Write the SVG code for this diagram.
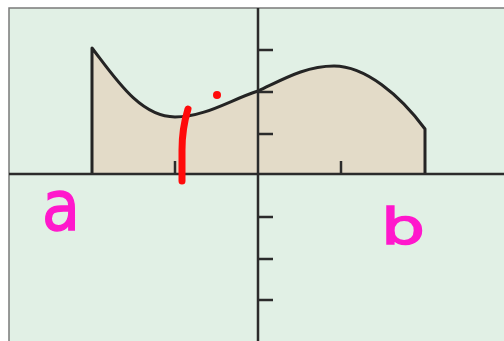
<svg xmlns="http://www.w3.org/2000/svg" width="504" height="341" viewBox="0 0 504 341">
  <style>
    .axis { stroke: #2b2b2b; stroke-width: 2.5; fill: none; }
    .tick { stroke: #2b2b2b; stroke-width: 2.5; fill: none; }
    .curve { stroke: #242424; stroke-width: 3; fill: none; stroke-linejoin: round; }
    .ink { font-family: "DejaVu Sans", sans-serif; font-weight: normal; fill: #ff18cc; stroke: #ff18cc; stroke-width: 1.5; }
  </style>
  <rect x="0" y="0" width="504" height="341" fill="#ffffff"/>
  <g id="frame">
    <rect x="9" y="8" width="500" height="340" fill="#e1f0e5" stroke="#7a7a7a" stroke-width="1.5"/>
  </g>
  <g id="region">
    <path d="M92,174 L92,48 C115,78 140,117 175,117 C205,117 230,100 258,91 C282,80 305,66 334,66 C365,66 400,95 425,129 L425,174 Z" fill="#e3dbc8"/>
    <path class="curve" d="M92,174 L92,48 C115,78 140,117 175,117 C205,117 230,100 258,91 C282,80 305,66 334,66 C365,66 400,95 425,129 L425,174"/>
  </g>
  <g id="axes">
    <line class="axis" x1="9" y1="174" x2="504" y2="174"/>
    <line class="axis" x1="258" y1="8" x2="258" y2="341"/>
    <g id="ticks">
      <line class="tick" x1="258" y1="50" x2="273" y2="50"/>
      <line class="tick" x1="258" y1="92" x2="273" y2="92"/>
      <line class="tick" x1="258" y1="134" x2="273" y2="134"/>
      <line class="tick" x1="258" y1="217" x2="273" y2="217"/>
      <line class="tick" x1="258" y1="259" x2="273" y2="259"/>
      <line class="tick" x1="258" y1="300" x2="273" y2="300"/>
      <line class="tick" x1="175" y1="174" x2="175" y2="161"/>
      <line class="tick" x1="341" y1="174" x2="341" y2="161"/>
    </g>
  </g>
  <g id="annotations">
    <path d="M188,109 C184,122 182,135 182,150 L182,181" stroke="#ff0a0a" stroke-width="7" stroke-linecap="round" fill="none"/>
    <circle cx="217" cy="95" r="4" fill="#ff0a0a"/>
    <text class="ink" x="42" y="230" font-size="70" textLength="38" lengthAdjust="spacingAndGlyphs">a</text>
    <text class="ink" x="381" y="244" font-size="50" textLength="44" lengthAdjust="spacingAndGlyphs">b</text>
  </g>
</svg>
